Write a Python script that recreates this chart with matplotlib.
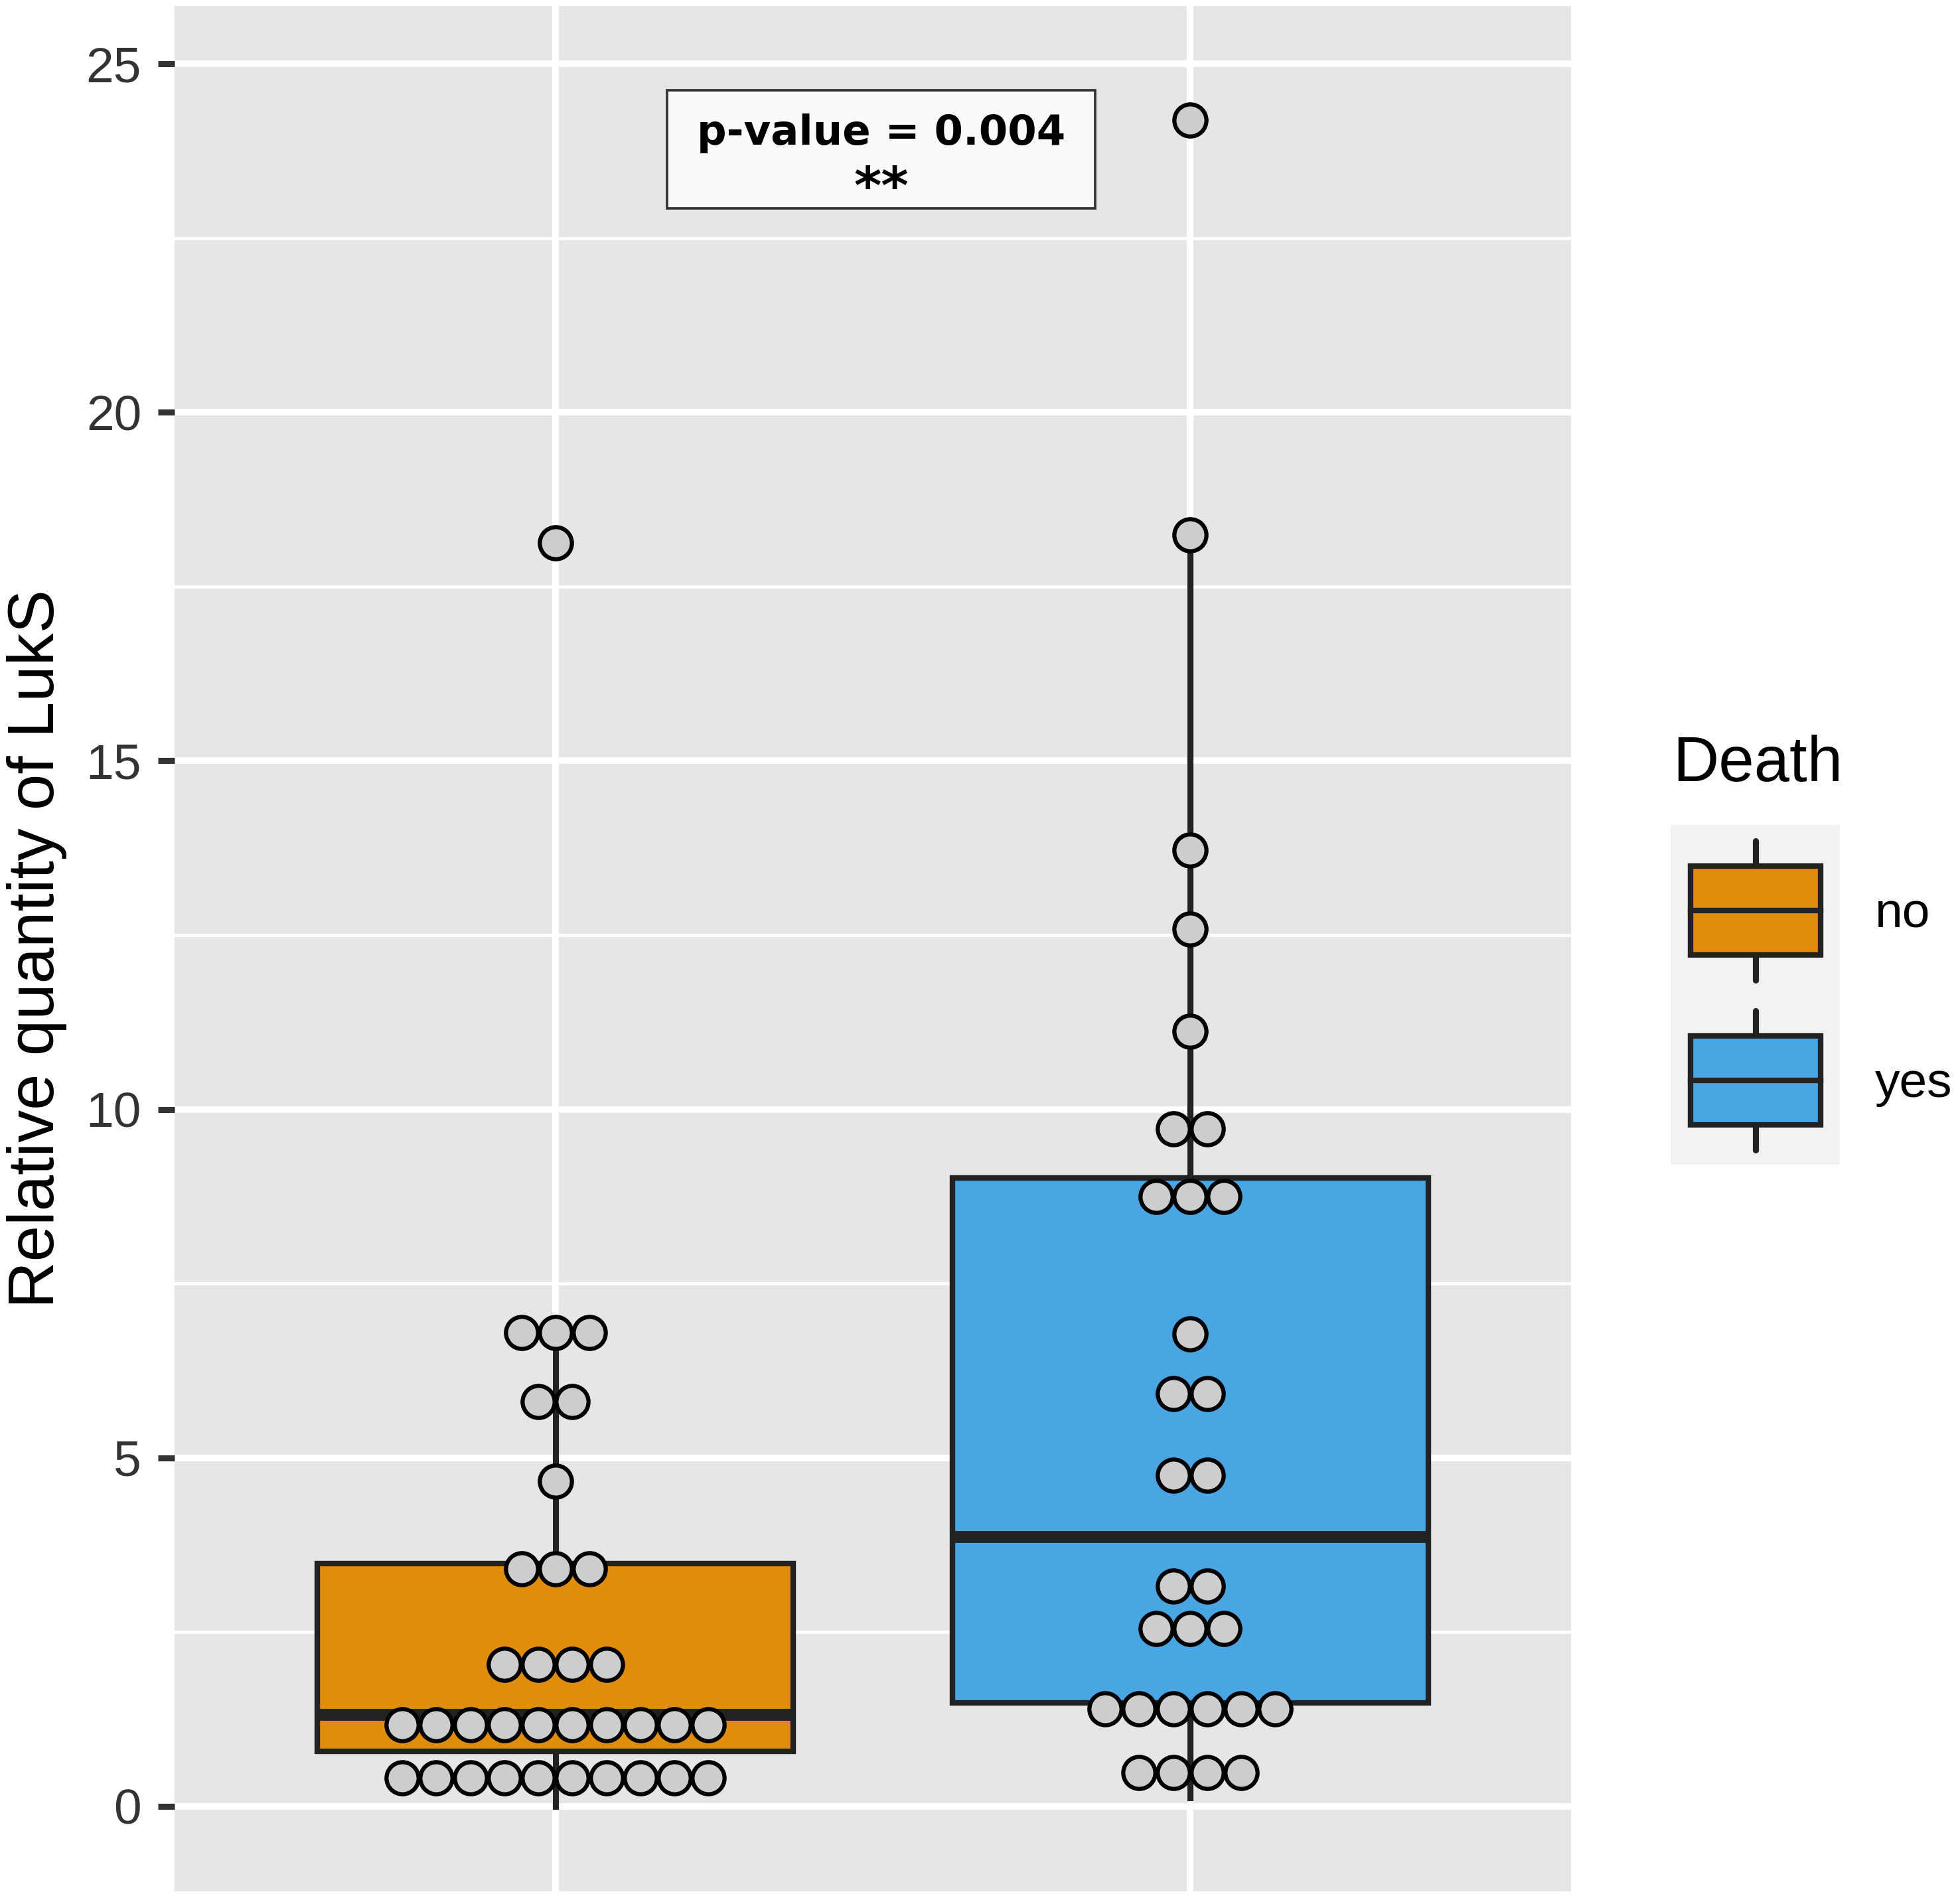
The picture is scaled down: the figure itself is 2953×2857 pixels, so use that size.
import numpy as np
import matplotlib.pyplot as plt
from matplotlib.patches import Rectangle

plt.rcParams['font.family'] = ['Liberation Sans', 'DejaVu Sans']

W, H = 2953, 2857
DPI = 300

groups = ['no', 'yes']
box_colors = ['#E08D0B', '#4AA5E3']

# box summary: whisker low, q1, median, q3, whisker high
no_stats = [0.0, 0.79, 1.31, 3.48, 6.80]
yes_stats = [0.12, 1.48, 3.86, 9.02, 18.24]

# dotplot rows: bin value and number of stacked dots
no_dot_values = [0.41, 1.17, 2.04, 3.41, 4.66, 5.81, 6.80, 18.13]
no_dot_counts = [10, 10, 4, 3, 1, 2, 3, 1]
yes_dot_values = [0.48, 1.40, 2.55, 3.16, 4.75, 5.92, 6.78, 8.75, 9.72, 11.12, 12.59, 13.72, 18.24, 24.19]
yes_dot_counts = [4, 6, 3, 2, 2, 2, 1, 3, 2, 1, 1, 1, 1, 1]

p_text = 'p-value = 0.004'
stars = '**'

panel_bg = '#E6E6E6'
line_col = '#222222'

fig = plt.figure(figsize=(W / DPI, H / DPI), dpi=DPI)
# panel in pixels: left 263, right 2367, top 9, bottom 2850
ax = fig.add_axes([263 / W, 7 / H, (2367 - 263) / W, (2850 - 9) / H])
ax.set_facecolor(panel_bg)
for s in ax.spines.values():
    s.set_visible(False)

ax.set_xlim(0.4, 2.6)
ax.set_ylim(-1.22, 25.83)
ax.set_xticks([1, 2])
ax.set_yticks(np.arange(0, 26, 5))
ax.set_yticks(np.arange(2.5, 25, 5), minor=True)
ax.grid(which='major', color='white', linewidth=2.4, zorder=0)
ax.grid(which='minor', axis='y', color='white', linewidth=1.1, zorder=0)
ax.set_axisbelow(True)
ax.tick_params(axis='x', length=0, labelbottom=False)
ax.tick_params(axis='y', which='major', length=6, width=2.2, color='#333333',
               pad=6, labelsize=18, labelcolor='#333333')
ax.tick_params(axis='y', which='minor', length=0)

# boxes
stats = []
for st in [no_stats, yes_stats]:
    stats.append(dict(whislo=st[0], q1=st[1], med=st[2], q3=st[3], whishi=st[4], fliers=[]))
bp = ax.bxp(stats, positions=[1, 2], widths=0.75, patch_artist=True, showcaps=False,
            boxprops=dict(edgecolor=line_col, linewidth=2.0),
            whiskerprops=dict(color=line_col, linewidth=2.2),
            medianprops=dict(color=line_col, linewidth=4.3, solid_capstyle='butt'),
            zorder=2)
for patch, c in zip(bp['boxes'], box_colors):
    patch.set_facecolor(c)

# dots stacked centred on each group
dot_step = 0.0536
for pos, vals, counts in [(1, no_dot_values, no_dot_counts), (2, yes_dot_values, yes_dot_counts)]:
    for v, n in zip(vals, counts):
        offs = (np.arange(n) - (n - 1) / 2) * dot_step
        ax.plot(pos + offs, np.full(n, v), 'o', ms=11.6, mfc='#CDCDCD', mec='black',
                mew=1.5, zorder=4, linestyle='none')

# p-value label
ax.add_patch(Rectangle((1.176, 22.93), 0.674, 1.69, facecolor='#FAFAFA',
                       edgecolor='#333333', linewidth=0.9, zorder=5))
ax.text(1.513, 24.0, p_text, ha='center', va='center', fontsize=15,
        fontweight='bold', family='DejaVu Sans', zorder=6)
ax.text(1.513, 23.2, stars, ha='center', va='center', fontsize=19,
        fontweight='bold', family='DejaVu Sans', zorder=6)

ax.set_ylabel('Relative quantity of LukS', fontsize=23.5, va='center')
ax.yaxis.set_label_coords((56 - 263) / 2104, 0.5)

# legend drawn in its own small axes, units are pixels
lx0, lx1, ly0, ly1 = 2517, 2772, 1243, 1755
lax = fig.add_axes([lx0 / W, 1 - ly1 / H, (lx1 - lx0) / W, (ly1 - ly0) / H])
lax.set_xlim(0, lx1 - lx0)
lax.set_ylim(ly1 - ly0, 0)
lax.set_facecolor('#F2F2F2')
lax.set_xticks([])
lax.set_yticks([])
for s in lax.spines.values():
    s.set_visible(False)
cx = (lx1 - lx0) / 2
for i, c in enumerate(box_colors):
    top = 62 + i * 256
    lax.plot([cx, cx], [top - 38, top + 172], color=line_col, lw=2.2, zorder=1,
             solid_capstyle='round')
    lax.add_patch(Rectangle((cx - 98, top), 196, 134, facecolor=c, edgecolor=line_col,
                            linewidth=2.0, zorder=2))
    lax.plot([cx - 98, cx + 98], [top + 67, top + 67], color=line_col, lw=2.0, zorder=3)

fig.text(2520 / W, 1 - 1152 / H, 'Death', fontsize=23, ha='left', va='center')
for i, g in enumerate(groups):
    fig.text(2825 / W, 1 - (1378 + i * 256) / H, g, fontsize=18, ha='left', va='center')

fig.savefig('out.png', dpi=DPI)
